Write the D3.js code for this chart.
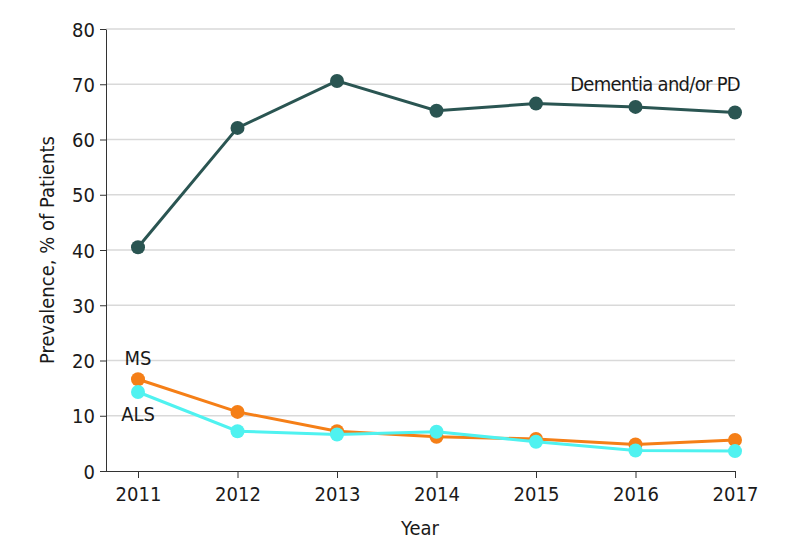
<!DOCTYPE html>
<html><head><meta charset="utf-8">
<script src="https://cdn.jsdelivr.net/npm/d3@7"></script>
<style>
body{margin:0;background:#fff;}
svg text{font-family:"DejaVu Sans Condensed","DejaVu Sans",sans-serif;font-stretch:condensed;fill:#1a1a1a;}
</style></head><body>
<svg id="c" width="794" height="556"></svg>
<script>
const years = [2011, 2012, 2013, 2014, 2015, 2016, 2017];
const dementia = [40.5, 62.1, 70.6, 65.2, 66.5, 65.9, 64.9];
const ms = [16.6, 10.7, 7.2, 6.2, 5.8, 4.8, 5.6];
const als = [14.3, 7.2, 6.6, 7.1, 5.3, 3.7, 3.6];
const yTicks = [0, 10, 20, 30, 40, 50, 60, 70, 80];
const seriesNames = ["Dementia and/or PD", "MS", "ALS"];

const svg = d3.select("#c");
const x = d3.scaleLinear().domain([2011, 2017]).range([138, 735]);
const y = d3.scaleLinear().domain([0, 80]).range([471, 29]);
const left = 106;

// grid
svg.append("g").selectAll("line").data(yTicks.filter(d => d > 0)).join("line")
  .attr("x1", left).attr("x2", 735)
  .attr("y1", d => y(d)).attr("y2", d => y(d))
  .attr("stroke", "#d9d9d9").attr("stroke-width", 1.5);

// y axis
const ya = svg.append("g").attr("transform", `translate(${left},0)`)
  .call(d3.axisLeft(y).tickValues(yTicks).tickSize(6).tickPadding(5).tickSizeOuter(0));
ya.select(".domain").attr("stroke", "#333");
ya.selectAll(".tick line").attr("stroke", "#333");
ya.selectAll("text").attr("font-size", 20).attr("font-family", null).attr("dy", "0.35em");

// x axis
const xa = svg.append("g").attr("transform", `translate(0,471)`)
  .call(d3.axisBottom(x).tickValues(years).tickFormat(d3.format("d")).tickSize(7).tickPadding(9).tickSizeOuter(0));
xa.select(".domain").attr("stroke", "#333").attr("d", `M${left},0.5H${x(2017)}`);
xa.selectAll(".tick line").attr("stroke", "#333");
xa.selectAll("text").attr("font-size", 20).attr("font-family", null);

svg.append("text").attr("x", 420).attr("y", 535).attr("text-anchor", "middle")
  .attr("font-size", 20).text("Year");
svg.append("text").attr("transform", "translate(54,250) rotate(-90)").attr("text-anchor", "middle")
  .attr("font-size", 20).text("Prevalence, % of Patients");

const series = [
  {name: seriesNames[0], vals: dementia, color: "#2a5552"},
  {name: seriesNames[1], vals: ms, color: "#f57f17"},
  {name: seriesNames[2], vals: als, color: "#4ff2f0"}
];
const line = d3.line().x((d, i) => x(years[i])).y(d => y(d));
[series[1], series[2], series[0]].forEach(s => {
  svg.append("path").datum(s.vals).attr("d", line).attr("fill", "none")
    .attr("stroke", s.color).attr("stroke-width", 3);
  svg.append("g").selectAll("circle").data(s.vals).join("circle")
    .attr("cx", (d, i) => x(years[i])).attr("cy", d => y(d)).attr("r", 7)
    .attr("fill", s.color);
});

svg.append("text").attr("x", 740).attr("y", 91).attr("text-anchor", "end")
  .attr("font-size", 20).attr("letter-spacing", "-0.7px").text(seriesNames[0]);
svg.append("text").attr("x", 138).attr("y", 365).attr("text-anchor", "middle")
  .attr("font-size", 20).text(seriesNames[1]);
svg.append("text").attr("x", 138).attr("y", 421).attr("text-anchor", "middle")
  .attr("font-size", 20).text(seriesNames[2]);
</script></body></html>
